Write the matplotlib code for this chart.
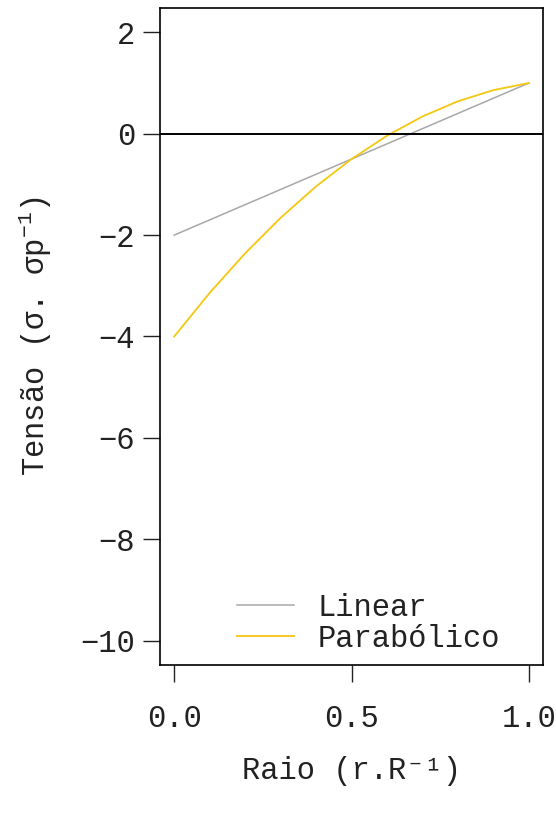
import matplotlib
matplotlib.use("Agg")
import matplotlib.pyplot as plt

# values
raio = [0.0, 0.1, 0.2, 0.3, 0.4, 0.5, 0.6, 0.7, 0.8, 0.9, 1.0]
linear = [-2.0, -1.7, -1.4, -1.1, -0.8, -0.5, -0.2, 0.1, 0.4, 0.7, 1.0]
parabolico = [-4.0, -3.14, -2.36, -1.66, -1.04, -0.5, -0.04, 0.34, 0.64, 0.86, 1.0]
xticks = [0.0, 0.5, 1.0]
yticks = [2, 0, -2, -4, -6, -8, -10]

plt.rcParams['font.family'] = ['Liberation Mono', 'DejaVu Sans Mono', 'DejaVu Sans']
plt.rcParams['mathtext.fontset'] = 'custom'
plt.rcParams['mathtext.rm'] = 'Liberation Mono'
plt.rcParams['axes.unicode_minus'] = True

fig = plt.figure(figsize=(5.56, 8.13), dpi=100)
ax = fig.add_axes([160/556, 1-665/813, 383/556, 657/813])

ax.plot(raio, linear, color='#A8A8A8', lw=1.1, label='Linear')
ax.plot(raio, parabolico, color='#F5C710', lw=1.3, label='Parabólico')
ax.axhline(0, color='black', lw=1.4)

ax.set_xlim(-0.04, 1.04)
ax.set_ylim(-10.48, 2.48)
ax.set_xticks(xticks)
ax.set_xticklabels(['0.0', '0.5', '1.0'])
ax.set_yticks(yticks)
ax.tick_params(labelsize=22, length=12, width=1, colors='#222222', pad=6)
ax.tick_params(axis='x', pad=16)
for s in ax.spines.values():
    s.set_linewidth(1.2)

ax.set_xlabel('Raio (r.R⁻¹)', fontsize=22, color='#222222')
ax.set_ylabel('Tensão (σ. σp$^{-1}$)', fontsize=22, color='#222222')
ax.xaxis.set_label_coords(0.5, (665-756)/657)
ax.yaxis.set_label_coords((54-160)/383, 0.5)

leg = ax.legend(loc='upper left', bbox_to_anchor=(237/556, 1-593/813),
                bbox_transform=fig.transFigure, borderpad=0, borderaxespad=0,
                frameon=False, fontsize=22, handlelength=1.85, handletextpad=0.8,
                labelspacing=0.02)
for t in leg.get_texts():
    t.set_color('#222222')

fig.savefig('out.png', dpi=100)
